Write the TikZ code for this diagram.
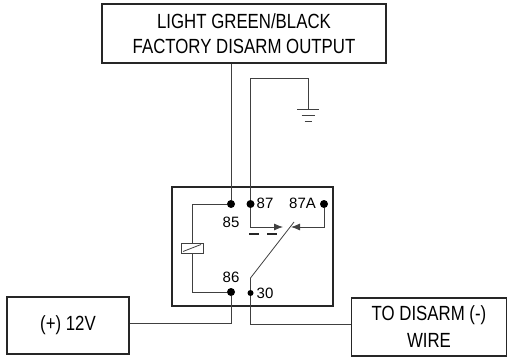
\documentclass[tikz,border=0pt]{standalone}
\usepackage{fontspec}
\setmainfont{Liberation Sans}[FakeStretch=0.82]
\newfontfamily\pinfont{Liberation Sans}
\usetikzlibrary{arrows.meta}

\begin{document}
\begin{tikzpicture}[x=1pt,y=-1pt]
\useasboundingbox (0,0) rectangle (508,358);
\tikzset{
  box/.style={draw=black!85,line width=1.1pt,align=center,inner sep=0pt,
    font=\fontsize{20.5}{25}\selectfont},
  wire/.style={draw=black!75,line width=0.8pt},
  pin/.style={circle,fill=black,inner sep=0pt,minimum size=8pt},
  pinlabel/.style={inner sep=0pt,font=\pinfont\fontsize{15}{17}\selectfont},
  contact/.style={wire,-{Latex[length=9pt,width=7pt]}}
}

\node[box,minimum width=284,minimum height=59] (output) at (244,33.5) {LIGHT GREEN/BLACK\\FACTORY DISARM OUTPUT};
\node[box,minimum width=122,minimum height=57] (power) at (68,325.5) {(+) 12V};
\node[box,minimum width=155,minimum height=58,font=\fontsize{20.5}{27}\selectfont] (disarm) at (429,327) {TO DISARM (-)\\WIRE};

% relay body
\draw[draw=black!85,line width=1.1pt] (172,187) rectangle (333,306);

\node[pin] (p85) at (231,204) {};
\node[pin] (p87) at (250.5,204) {};
\node[pin] (p87a) at (324,204) {};
\node[pin] (p86) at (231,292) {};
\node[pin,minimum size=6pt] (p30) at (250.5,293) {};

\node[pinlabel] (l85) at (231,222) {85};
\node[pinlabel] (l87) at (265,203) {87};
\node[pinlabel] (l87a) at (302.5,203) {87A};
\node[pinlabel] (l86) at (231,277) {86};
\node[pinlabel] (l30) at (265,293) {30};

\coordinate (gnd) at (308,109);

% wiring
\draw[wire] (p85 |- output.south) -- (p85);
\draw[wire] (p87) -- (250.5,78) -| (gnd);
\draw[wire] (gnd) ++(-11,0) -- ++(22,0);
\draw[wire] (gnd) ++(-6.5,6) -- ++(13,0);
\draw[wire] (gnd) ++(-3.5,12) -- ++(7,0);

% coil
\draw[wire] (p85) -| (192,243);
\draw[wire] (p86) -| (192,253);
\draw[wire] (181,243) rectangle (203,253);
\draw[wire] (183,251.5) -- (201,244.5);

% switch
\draw[contact] (p87) |- (283,227);
\draw[contact] (p87a) |- (291,227);
\draw[line width=1.6pt,black!85,dash pattern=on 9.5pt off 8.5pt] (249,234) -- (277,234);
\draw[wire] (p30) -- (250.5,278) -- (294,222);

\draw[wire] (p86) -- (231,323) -- (power.east |- 0,323);
\draw[wire] (p30) -- (250.5,324) -- (disarm.west |- 0,324);
\end{tikzpicture}
\end{document}
